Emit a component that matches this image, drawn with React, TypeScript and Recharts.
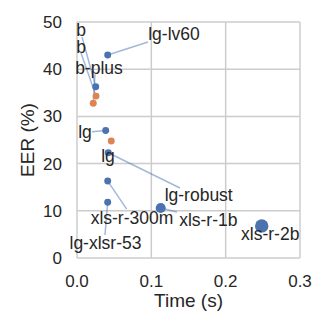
import { ScatterChart, Scatter, XAxis, YAxis, ZAxis, CartesianGrid, Label } from "recharts";

// model results (time per utterance vs EER)
const blueModels = ["lg-lv60", "b", "lg", "lg-robust", "xls-r-300m", "lg-xlsr-53", "xls-r-1b", "xls-r-2b"];
const blueTime = [0.0413, 0.0252, 0.0386, 0.0421, 0.0413, 0.0413, 0.1126, 0.2485];
const blueEer = [43.0, 36.3, 27.0, 22.3, 16.3, 11.8, 10.6, 6.8];
const blueParams = [0.3, 0.3, 0.3, 0.3, 0.3, 0.3, 1, 2];

const orangeModels = ["b", "b-plus", "lg"];
const orangeTime = [0.0256, 0.0219, 0.0461];
const orangeEer = [34.3, 32.8, 24.8];
const orangeParams = [0.3, 0.3, 0.3];

const xTicks = [0, 0.1, 0.2, 0.3];
const yTicks = [0, 10, 20, 30, 40, 50];

// label placement in pixels: [text dx, text dy, line start dx, line start dy]
const blueLabelPos: (number[] | null)[] = [
  [66.3, -21, 40.3, -13],
  [-14.7, -57.2, -13.7, -49.7],
  [-20.7, 0.7, -13.7, 1.3],
  [90.4, 41.7, 71.7, 35.3],
  [24.3, 36.8, 19, 28],
  [-2.2, 40.5, -2.7, 32.7],
  [47.6, 12, 16.3, 4],
  [8.5, 8],
];
const orangeLabelPos: (number[] | null)[] = [
  [-15, -49, -15, -43],
  [5.7, -35, 1.7, -29],
  [-3.3, 15],
];

const BLUE = "#4c72b0";
const ORANGE = "#dd8452";
const TEXT = "#262626";
const FONT = "'Liberation Sans', Arial, sans-serif";
const LABEL_SIZE = 17.5;

const blueData = blueModels.map((name, i) => ({
  name,
  time: blueTime[i],
  eer: blueEer[i],
  params: blueParams[i],
  pos: blueLabelPos[i],
}));
const orangeData = orangeModels.map((name, i) => ({
  name,
  time: orangeTime[i],
  eer: orangeEer[i],
  params: orangeParams[i],
  pos: orangeLabelPos[i],
}));
const allData = [...blueData, ...orangeData];

const LeaderLine = (props: any) => {
  const { cx, cy, payload } = props;
  const pos = payload.pos;
  if (!pos || pos.length < 4) return <g />;
  return (
    <line
      x1={cx + pos[2]}
      y1={cy + pos[3]}
      x2={cx}
      y2={cy}
      stroke={BLUE}
      strokeOpacity={0.5}
      strokeWidth={1.5}
    />
  );
};

const PointLabel = (props: any) => {
  const { cx, cy, payload } = props;
  const pos = payload.pos;
  if (!pos) return <g />;
  return (
    <text
      x={cx + pos[0]}
      y={cy + pos[1] + 0.358 * LABEL_SIZE}
      textAnchor="middle"
      fontSize={LABEL_SIZE}
      fontFamily={FONT}
      fill={TEXT}
    >
      {payload.name}
    </text>
  );
};

const tickStyle = { fontSize: 17, fill: TEXT, fontFamily: FONT };

export default function App() {
  return (
    <div style={{ position: "absolute", left: 0, top: 0, width: 326, height: 326, background: "#fff" }}>
      <ScatterChart width={326} height={326} margin={{ top: 22, right: 26, bottom: 0, left: 0 }}>
        <CartesianGrid stroke="#cccccc" strokeWidth={1.5} />
        <XAxis
          type="number"
          dataKey="time"
          domain={[0, 0.3]}
          ticks={xTicks}
          tickFormatter={(v: number) => v.toFixed(1)}
          axisLine={false}
          tickLine={false}
          tickSize={0}
          tickMargin={17}
          height={68}
          tick={tickStyle}
        >
          <Label value="Time (s)" position="insideBottom" offset={19} fontSize={19} fill={TEXT} fontFamily={FONT} />
        </XAxis>
        <YAxis
          type="number"
          dataKey="eer"
          domain={[0, 50]}
          ticks={yTicks}
          axisLine={false}
          tickLine={false}
          tickSize={0}
          tickMargin={15}
          width={77}
          tick={tickStyle}
        >
          <Label
            value="EER (%)"
            angle={-90}
            position="insideLeft"
            offset={27.5}
            fontSize={19}
            fill={TEXT}
            fontFamily={FONT}
            style={{ textAnchor: "middle" }}
          />
        </YAxis>
        <ZAxis type="number" dataKey="params" domain={[0.3, 2]} range={[38, 141]} />
        <Scatter data={allData} shape={LeaderLine} isAnimationActive={false} />
        <Scatter data={blueData} fill={BLUE} isAnimationActive={false} />
        <Scatter data={orangeData} fill={ORANGE} isAnimationActive={false} />
        <Scatter data={allData} shape={PointLabel} isAnimationActive={false} />
      </ScatterChart>
    </div>
  );
}
